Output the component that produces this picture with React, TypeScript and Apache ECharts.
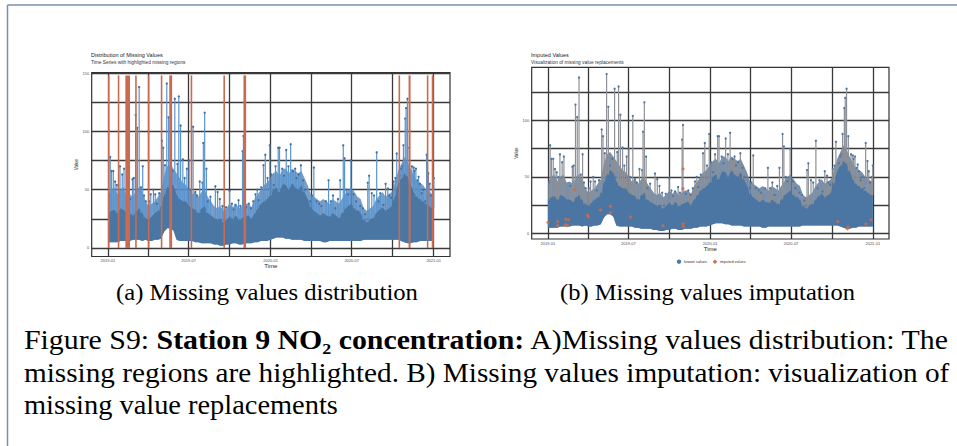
import React, { useEffect, useRef } from "react";
import * as echarts from "echarts";

// ---------- data (days since 2019-01-01, weekly envelopes) ----------
const weekFloor = [
  5, 5, 5, 5, 6, 6, 6, 6, 7, 7, 7, 6, 7,
  6, 6, 7, 7, 8,
  14, 17, 17, 15,
  7, 6, 6, 6,
  6, 6, 5, 5,
  4, 4, 4, 4,
  3, 3, 2, 2, 3,
  3, 4, 4, 3, 3, 4, 4, 4,
  5, 5, 6, 6, 6,
  7, 8, 9, 9, 9, 8, 8,
  7, 7, 7, 7, 6, 6,
  6, 6, 6, 6, 5, 5, 6, 6, 6, 6, 6, 6, 6, 6, 6, 6, 6,
  7, 7, 7, 7, 7, 7, 7, 7, 7, 7,
  7, 7, 6, 5, 4, 4, 5, 5, 6, 6, 6, 6, 6,
];
const weekBody = [
  30, 32, 33, 30, 34, 33, 30, 30, 28, 32, 34, 30, 26,
  24, 27, 30, 32, 36,
  46, 52, 56, 54,
  46, 42, 40, 40,
  36, 34, 33, 30,
  34, 36, 30, 28,
  26, 24, 25, 22, 24,
  27, 25, 28, 24, 26, 27, 28, 25,
  30, 34, 38, 40, 42,
  45, 50, 52, 48, 55, 54, 50,
  56, 52, 50, 54, 48, 42,
  35, 32, 30, 28, 30, 28, 27, 30, 28, 26, 30, 34, 36, 38, 34, 32, 30,
  24, 22, 24, 26, 30, 33, 35, 32, 34, 36,
  45, 55, 60, 64, 62, 55, 48, 44, 42, 40, 38, 36, 34,
];
const weekUpper = [
  45, 50, 52, 46, 50, 52, 45, 46, 44, 50, 52, 48, 40,
  36, 38, 40, 44, 48,
  62, 70, 72, 68,
  64, 60, 56, 54,
  50, 46, 48, 44,
  48, 50, 44, 40,
  36, 34, 36, 32, 34,
  38, 35, 38, 34, 36, 38, 38, 35,
  42, 46, 50, 54, 56,
  60, 64, 66, 62, 68, 68, 64,
  68, 66, 64, 66, 60, 54,
  46, 44, 42, 40, 42, 40, 38, 42, 40, 38, 42, 46, 50, 52, 48, 44, 42,
  34, 32, 34, 36, 42, 45, 48, 44, 46, 48,
  56, 66, 72, 78, 74, 68, 62, 58, 56, 54, 50, 48, 46,
];
const spikeDay = [
  3, 5, 8, 12, 16, 20, 24, 27, 32, 36, 50, 55, 58, 62, 66, 70, 74, 78, 81, 85, 92, 96,
  102, 106, 110, 115, 121, 124, 128, 132, 136, 140, 145, 150, 156, 159, 163, 168, 172, 177, 182, 185, 191, 196,
  200, 206, 212, 214, 217, 221, 224, 230, 241, 246, 251, 257, 265, 273, 278, 282, 286, 293, 297,
  302, 304, 310, 316, 321, 326, 331, 335, 338, 344, 349, 353, 358, 363, 367, 372, 376, 382, 385, 391, 395,
  400, 405, 410, 415, 420, 423, 428, 433, 438, 442, 447, 454, 458, 462, 468, 474, 479, 489, 495,
  500, 505, 510, 516, 521, 528, 531, 535, 539, 545, 551, 557, 562, 566, 572, 577, 583, 586, 592, 597,
  603, 607, 611, 618, 623, 628, 631, 635, 641, 645, 648, 655, 658, 661, 663, 667, 669, 672, 676, 682,
  686, 688, 691, 695, 697, 700, 704, 708, 712, 715, 719, 722, 725, 729, 731,
];
const spikeValue = [
  45, 78, 66, 66, 57, 54, 50, 70, 63, 68, 42, 59, 60, 114, 103, 138, 52, 70, 45, 40, 40, 46,
  50, 46, 38, 47, 92, 86, 71, 141, 112, 60, 66, 128, 72, 130, 105, 76, 60, 68, 75, 50, 104, 48,
  45, 57, 56, 90, 116, 68, 40, 44, 53, 48, 42, 36, 35, 49, 38, 33, 37, 41, 36,
  83, 96, 35, 38, 34, 40, 46, 50, 41, 52, 71, 80, 60, 88, 63, 54, 70, 86, 86, 68, 62,
  84, 70, 89, 66, 68, 60, 63, 71, 58, 50, 41, 40, 45, 69, 40, 38, 36, 40, 58,
  40, 45, 34, 42, 58, 88, 77, 50, 46, 75, 46, 40, 31, 36, 34, 29, 56, 62, 47, 45,
  82, 40, 47, 37, 55, 51, 45, 43, 57, 60, 81, 62, 68, 70, 88, 111, 120, 128, 86, 70,
  69, 66, 68, 58, 61, 55, 47, 50, 40, 80, 64, 55, 45, 50, 60,
];
const missingStart = [0, 22, 39, 61, 89.5, 118.5, 137.5, 185.5, 259, 304, 652, 674.5, 715.5, 726.5];
const missingEnd = [2, 24, 49.5, 63, 91.5, 120.5, 144, 188, 261.5, 310, 654, 679, 718, 731];
const missingTop = 148;
const imputedDay = [0, 22, 22, 40, 39, 46, 44, 61, 89, 91, 118, 141, 141, 186, 259, 304, 304, 304, 305, 652, 675, 674, 715.5, 727];
const imputedValue = [9.7, 10.6, 7, 12.4, 7.8, 12, 7, 38.6, 16, 14.7, 20.6, 24, 18.3, 14.5, 6.7, 57, 39.5, 8.5, 6, 10.6, 5.6, 4, 8.2, 12];

const xTickDays = [0, 181, 365, 547, 731];
const xTickLabels = ["2019-01", "2019-07", "2020-01", "2020-07", "2021-01"];
const quarterDays = [0, 90, 181, 273, 365, 456, 547, 639, 731];
const yGridA = [0, 25, 50, 75, 100, 125, 150];
const yGridB = [0, 25, 50, 75, 100, 125];
const yLabelsA = [0, 50, 100, 150];
const yLabelsB = [0, 50, 100];

const weekDays = weekBody.map((_, i) => i * 7);

const SERIF = '"Liberation Serif", "Times New Roman", serif';
const SANS = '"Liberation Sans", Arial, sans-serif';

function measureText(text: string, font: string): number {
  const ctx = document.createElement("canvas").getContext("2d");
  if (!ctx) return text.length * 10;
  ctx.font = font;
  return ctx.measureText(text).width;
}

function weekIdx(d: number) {
  return Math.max(0, Math.min(weekBody.length - 1, Math.round(d / 7)));
}

export default function App() {
  const ref = useRef<HTMLDivElement>(null);
  useEffect(() => {
    document.body.style.margin = "0";
    const el = ref.current!;
    const chart = echarts.init(el, null, { renderer: "svg" });

    const bandRender = (top: number[], bottom: number[], fill: string, opacity: number) => (_p: any, api: any) => {
      const pts: number[][] = [];
      for (let i = 0; i < weekDays.length; i++) pts.push(api.coord([weekDays[i], top[i]]));
      pts.push(api.coord([731, top[top.length - 1]]));
      pts.push(api.coord([731, bottom[bottom.length - 1]]));
      for (let i = weekDays.length - 1; i >= 0; i--) pts.push(api.coord([weekDays[i], bottom[i]]));
      return { type: "polygon", shape: { points: pts }, style: { fill, opacity } };
    };
    const spikeRender = (lineColor: string, dotColor: string) => (_p: any, api: any) => {
      const top = api.coord([api.value(0), api.value(1)]);
      const bot = api.coord([api.value(0), api.value(2)]);
      return {
        type: "group",
        children: [
          { type: "line", shape: { x1: top[0], y1: bot[1], x2: top[0], y2: top[1] }, style: { stroke: lineColor, lineWidth: 1.2 } },
          { type: "circle", shape: { cx: top[0], cy: top[1], r: 1.15 }, style: { fill: dotColor } },
        ],
      };
    };
    const spikeData = spikeDay.map((d, i) => [d, spikeValue[i], weekBody[weekIdx(d)]]);

    const gridLines = (idx: number, ys: number[]) => ({
      type: "line",
      xAxisIndex: idx,
      yAxisIndex: idx,
      data: [[-100, -100]],
      symbol: "none",
      silent: true,
      z: 1,
      zlevel: 0,
      lineStyle: { opacity: 0 },
      markLine: {
        silent: true,
        z: 1,
        symbol: ["none", "none"],
        label: { show: false },
        lineStyle: { color: "#3a3a3a", width: 1.3, type: "solid" },
        data: [...ys.map((v) => ({ yAxis: v })), ...quarterDays.map((d) => ({ xAxis: d }))],
      },
    });

    const xAxisCfg = (idx: number, gap: number) => ({
      type: "value",
      gridIndex: idx,
      min: -36.5,
      max: 767.5,
      axisLine: { show: false },
      splitLine: { show: false },
      axisTick: { show: true, customValues: xTickDays, length: 2, lineStyle: { color: "#333", width: 0.6 } },
      axisLabel: {
        customValues: xTickDays,
        formatter: (v: number) => {
          const k = xTickDays.indexOf(v);
          return k >= 0 ? xTickLabels[k] : "";
        },
        fontSize: 4,
        color: "#4d4d4d",
        margin: 2,
        fontFamily: SANS,
      },
      name: "Time",
      nameLocation: "middle",
      nameGap: gap,
      nameTextStyle: { fontSize: 6, color: "#222", fontFamily: SANS },
    });
    const yAxisCfg = (idx: number, min: number, max: number, labels: number[]) => ({
      type: "value",
      gridIndex: idx,
      min,
      max,
      axisLine: { show: false },
      splitLine: { show: false },
      axisTick: { show: true, customValues: labels, length: 2, lineStyle: { color: "#333", width: 0.6 } },
      axisLabel: { customValues: labels, fontSize: 4, color: "#4d4d4d", margin: 2.5, fontFamily: SANS },
      name: "Value",
      nameLocation: "middle",
      nameGap: 10,
      nameTextStyle: { fontSize: 4.6, color: "#222", fontFamily: SANS },
    });

    // captions
    const capSize = 27;
    const c1a = "Figure S9: ";
    const c1b = "Station 9 NO\u2082 concentration:";
    const c1c = " A)Missing values distribution: The";
    const c2 = "missing regions are highlighted. B) Missing values imputation: visualization of";
    const c3 = "missing value replacements";
    const fN = `${capSize}px ${SERIF}`;
    const fB = `bold ${capSize}px ${SERIF}`;
    const w1 = measureText(c1a, fN) + measureText(c1b, fB) + measureText(c1c, fN);
    const w2 = measureText(c2, fN);
    const w3 = measureText(c3, fN);
    const subSize = 24;
    const sa = "(a) Missing values distribution";
    const sb = "(b) Missing values imputation";
    const wsa = measureText(sa, `${subSize}px ${SERIF}`);
    const wsb = measureText(sb, `${subSize}px ${SERIF}`);

    const txt = (x: number, y: number, text: string, size: number, color: string, extra: any = {}) => ({
      type: "text",
      x,
      y,
      silent: true,
      style: { text, fontSize: size, fontFamily: SANS, fill: color, verticalAlign: "middle", align: "left", ...extra },
    });

    const option: any = {
      animation: false,
      grid: [
        { left: 91.7, top: 72.7, width: 358.3, height: 183.8, show: true, borderColor: "#333", borderWidth: 1.2, backgroundColor: "transparent" },
        { left: 531.7, top: 67.3, width: 357.3, height: 171.7, show: true, borderColor: "#333", borderWidth: 1.2, backgroundColor: "transparent" },
      ],
      xAxis: [xAxisCfg(0, 6.5), xAxisCfg(1, 6)],
      yAxis: [yAxisCfg(0, -7.3, 150.3, yLabelsA), yAxisCfg(1, -5, 147, yLabelsB)],
      series: [
        gridLines(0, yGridA),
        gridLines(1, yGridB),
        { type: "custom", xAxisIndex: 0, yAxisIndex: 0, data: [[0, 0]], renderItem: bandRender(weekUpper, weekFloor, "#5386bd", 0.8), z: 10, silent: true },
        { type: "custom", xAxisIndex: 0, yAxisIndex: 0, data: [[0, 0]], renderItem: bandRender(weekBody, weekFloor, "#4a76a3", 1), z: 11, silent: true },
        { type: "custom", xAxisIndex: 0, yAxisIndex: 0, data: spikeData, renderItem: spikeRender("#5b95cf", "#44709f"), z: 12, silent: true },
        {
          type: "custom",
          xAxisIndex: 0,
          yAxisIndex: 0,
          data: missingStart.map((s, i) => [s, missingEnd[i]]),
          renderItem: (_p: any, api: any) => {
            const a = api.coord([api.value(0), 0]);
            const b = api.coord([api.value(1), missingTop]);
            const w = Math.max(b[0] - a[0], 1.6);
            return { type: "rect", shape: { x: a[0], y: b[1], width: w, height: a[1] - b[1] }, style: { fill: "#cb6a4e" } };
          },
          z: 13,
          silent: true,
        },
        { type: "custom", xAxisIndex: 1, yAxisIndex: 1, data: [[0, 0]], renderItem: bandRender(weekUpper, weekFloor, "#627c9c", 0.85), z: 10, silent: true },
        { type: "custom", xAxisIndex: 1, yAxisIndex: 1, data: [[0, 0]], renderItem: bandRender(weekBody, weekFloor, "#4b75a2", 1), z: 11, silent: true },
        { type: "custom", xAxisIndex: 1, yAxisIndex: 1, data: spikeData, renderItem: spikeRender("#8d9097", "#4a78a8"), z: 12, silent: true },
        {
          type: "scatter",
          xAxisIndex: 1,
          yAxisIndex: 1,
          data: imputedDay.map((d, i) => [d, imputedValue[i]]),
          symbol: "diamond",
          symbolSize: 4,
          itemStyle: { color: "#d36b45" },
          z: 13,
          silent: true,
        },
      ],
      graphic: [
        { type: "line", silent: true, shape: { x1: 7.5, y1: 5, x2: 7.5, y2: 446 }, style: { stroke: "#7a8fb0", lineWidth: 1.5 } },
        { type: "line", silent: true, shape: { x1: 7.5, y1: 5, x2: 957, y2: 5 }, style: { stroke: "#7a8fb0", lineWidth: 1.5 } },
        txt(91, 55, "Distribution of Missing Values", 5.5, "#222"),
        txt(91, 62.5, "Time Series with highlighted missing regions", 4.8, "#333"),
        txt(531, 55, "Imputed Values", 5.5, "#222"),
        txt(531, 62.5, "Visualization of missing value replacements", 4.8, "#333"),
        { type: "circle", silent: true, shape: { cx: 679, cy: 261.7, r: 2.2 }, style: { fill: "#4a78a8" } },
        txt(684, 261.7, "known values", 3.8, "#333"),
        { type: "rect", silent: true, x: 715, y: 261.7, rotation: Math.PI / 4, shape: { x: -1.6, y: -1.6, width: 3.2, height: 3.2 }, style: { fill: "#d36b45" } },
        txt(720, 261.7, "imputed values", 3.8, "#333"),
        {
          type: "text",
          silent: true,
          x: 267,
          y: 292,
          scaleX: 302 / wsa,
          style: { text: sa, fontSize: subSize, fontFamily: SERIF, fill: "#000", align: "center", verticalAlign: "middle" },
        },
        {
          type: "text",
          silent: true,
          x: 707.5,
          y: 292,
          scaleX: 295 / wsb,
          style: { text: sb, fontSize: subSize, fontFamily: SERIF, fill: "#000", align: "center", verticalAlign: "middle" },
        },
        {
          type: "text",
          silent: true,
          x: 24,
          y: 340,
          scaleX: 926 / w1,
          style: {
            text: `{n|${c1a}}{b|${c1b}}{n|${c1c}}`,
            fontSize: capSize,
            fontFamily: SERIF,
            fill: "#000",
            align: "left",
            verticalAlign: "middle",
            rich: {
              n: { fontSize: capSize, fontFamily: SERIF, fill: "#000" },
              b: { fontSize: capSize, fontFamily: SERIF, fontWeight: "bold", fill: "#000" },
            },
          },
        },
        {
          type: "text",
          silent: true,
          x: 24,
          y: 372.5,
          scaleX: 926 / w2,
          style: { text: c2, fontSize: capSize, fontFamily: SERIF, fill: "#000", align: "left", verticalAlign: "middle" },
        },
        {
          type: "text",
          silent: true,
          x: 24,
          y: 405,
          scaleX: 314 / w3,
          style: { text: c3, fontSize: capSize, fontFamily: SERIF, fill: "#000", align: "left", verticalAlign: "middle" },
        },
      ],
    };
    chart.setOption(option);
    return () => chart.dispose();
  }, []);
  return <div ref={ref} style={{ width: 957, height: 446 }} />;
}
